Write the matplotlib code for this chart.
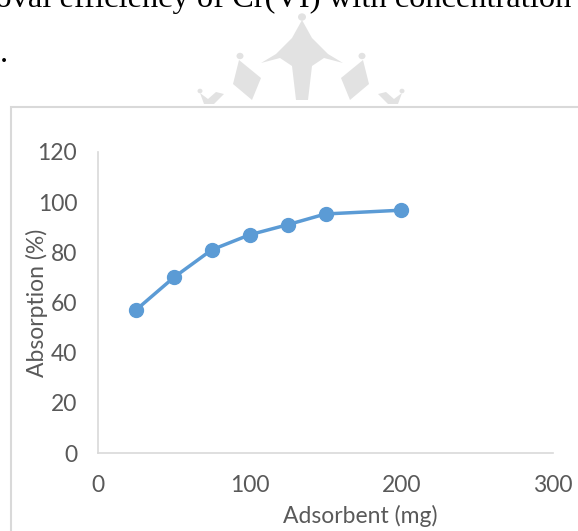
import matplotlib.pyplot as plt
from matplotlib.patches import Rectangle, Polygon, Circle

adsorbent = [25, 50, 75, 100, 125, 150, 200]
absorption = [57, 70, 81, 87, 91, 95.3, 96.8]

x_ticks = [0, 100, 200, 300]
y_ticks = [0, 20, 40, 60, 80, 100, 120]

W, H = 578, 531
fig = plt.figure(figsize=(W / 100, H / 100), dpi=100)


def px(x, y):
    # pixel coords (top-left origin) -> figure fraction
    return (x / W, 1 - y / H)


# faint watermark behind the chart
wm = "#e2e2e2"
shapes = [
    [(302, 20), (292, 38), (276, 54), (261, 63), (280, 58), (292, 66), (296, 100),
     (308, 100), (312, 66), (324, 58), (343, 63), (328, 54), (312, 38)],
    [(239, 60), (233, 84), (252, 100), (261, 78)],
    [(363, 60), (369, 84), (350, 100), (341, 78)],
    [(200, 93), (204, 104), (214, 104), (224, 94), (216, 92), (208, 99)],
    [(402, 93), (398, 104), (388, 104), (378, 94), (386, 92), (394, 99)],
]
for s in shapes:
    fig.patches.append(Polygon([px(*p) for p in s], closed=True,
                               transform=fig.transFigure, facecolor=wm,
                               edgecolor="none", zorder=0))
for cx, cy, r in [(302, 17, 4), (240, 56, 3.5), (362, 56, 3.5), (200, 91, 2.5), (402, 91, 2.5)]:
    fig.patches.append(Circle(px(cx, cy), r / W, transform=fig.transFigure,
                              facecolor=wm, edgecolor="none", zorder=0))

# caption fragment from the page above the chart
fig.text(*px(571, 7), "removal efficiency of Cr(VI) with concentration",
         family="Liberation Serif", fontsize=23.4, ha="right", va="baseline", color="black")
fig.text(*px(0, 62), ".", family="Liberation Serif", fontsize=23.4,
         ha="left", va="baseline", color="black")

# chart frame
fig.patches.append(Rectangle((11 / W, -0.1), 1.2, 1 - 107 / H + 0.1,
                             transform=fig.transFigure, fill=False,
                             edgecolor="#d9d9d9", linewidth=1.5))

ax = fig.add_axes([98 / W, 1 - 453 / H, (553 - 98) / W, (453 - 152) / H])
ax.patch.set_alpha(0)
ax.plot(adsorbent, absorption, color="#5b9bd5", linewidth=2.5,
        marker="o", markersize=10)

ax.set_xlim(0, 300)
ax.set_ylim(0, 120)
ax.set_xticks(x_ticks)
ax.set_yticks(y_ticks)

for side in ["top", "right"]:
    ax.spines[side].set_visible(False)
for side in ["left", "bottom"]:
    ax.spines[side].set_color("#d9d9d9")
    ax.spines[side].set_linewidth(1.2)

ax.tick_params(length=0, labelsize=16.5, labelcolor="#595959")
ax.tick_params(axis="y", pad=15)
ax.tick_params(axis="x", pad=16)
for lab in ax.get_xticklabels() + ax.get_yticklabels():
    lab.set_family("Lato")

ax.set_xlabel("Adsorbent (mg)", family="Lato", fontsize=16.5, color="#595959")
ax.set_ylabel("Absorption (%)", family="Lato", fontsize=16.5, color="#595959")
ax.xaxis.label.set_va("center")
ax.yaxis.label.set_va("center")
ax.xaxis.set_label_coords((360 - 98) / 455, (453 - 516) / 301)
ax.yaxis.set_label_coords((37 - 98) / 455, (453 - 303) / 301)

fig.savefig("out.png", dpi=100)
